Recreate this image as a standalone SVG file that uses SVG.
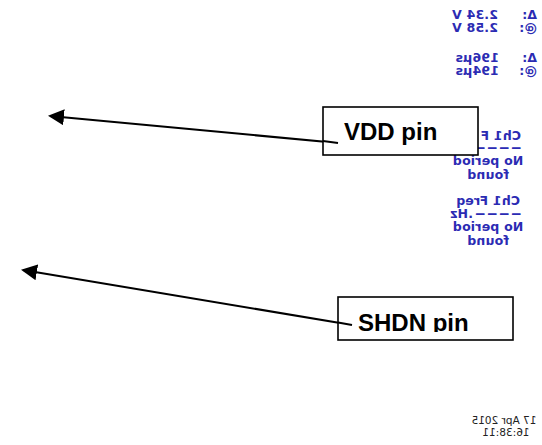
<svg xmlns="http://www.w3.org/2000/svg" width="542" height="445" viewBox="0 0 542 445">
<style>
.scope{font-family:"DejaVu Sans",sans-serif;font-weight:bold;font-size:12.5px;letter-spacing:0.2px;fill:#2b2bb3}
.date{font-family:"DejaVu Sans",sans-serif;font-size:10.5px;fill:#222}
.lbl{font-family:"Liberation Sans",Arial,sans-serif;font-weight:bold;font-size:24px;fill:#000}
.box{fill:#fff;stroke:#000;stroke-width:1.6}
.conn{stroke:#000;stroke-width:2;fill:none}
</style>
<defs>
<marker id="ah" markerWidth="8" markerHeight="8" refX="7" refY="4" orient="auto" markerUnits="strokeWidth">
<path d="M0,0 L8,4 L0,8 Z" fill="#000"/>
</marker>
<clipPath id="shclip"><rect x="338" y="297" width="176" height="35"/></clipPath>
</defs>
<rect width="542" height="445" fill="#fff"/>
<g id="scope-readout" transform="matrix(-1 0 0 1 542 0)">
<g class="scope">
<text x="5" y="19">Δ:</text>
<text x="44" y="19">2.34 V</text>
<text x="5" y="32">@:</text>
<text x="44" y="32">2.58 V</text>
<text x="5" y="62">Δ:</text>
<text x="43" y="62">196µs</text>
<text x="5" y="75">@:</text>
<text x="43" y="75">194µs</text>
<text x="21" y="140">Ch1 F</text>
<text x="20" y="152" textLength="48" lengthAdjust="spacingAndGlyphs">----</text>
<text x="54" y="165" text-anchor="middle">No period</text>
<text x="54" y="179" text-anchor="middle">found</text>
<text x="54" y="205" text-anchor="middle">Ch1 Freq</text>
<text x="20" y="218" textLength="48" lengthAdjust="spacingAndGlyphs">----</text>
<text x="69" y="218">.Hz</text>
<text x="54" y="231" text-anchor="middle">No period</text>
<text x="54" y="245" text-anchor="middle">found</text>
</g>
<g class="date">
<text x="38" y="424" text-anchor="middle">17 Apr 2015</text>
<text x="36" y="436" text-anchor="middle">16:38:11</text>
</g>
</g>
<g id="connectors">
<line class="conn" x1="338" y1="143" x2="50" y2="116" marker-end="url(#ah)"/>
<line class="conn" x1="352" y1="325" x2="23" y2="270" marker-end="url(#ah)"/>
</g>
<g id="vdd-pin">
<rect class="box" x="323" y="107" width="155" height="48"/>
<text class="lbl" x="344" y="140">VDD pin</text>
</g>
<g id="shdn-pin">
<rect class="box" x="338" y="297" width="175" height="43"/>
<text class="lbl" x="358" y="331" clip-path="url(#shclip)">SHDN pin</text>
</g>
<line class="conn" x1="323" y1="141" x2="338" y2="143"/>
<line class="conn" x1="338" y1="322.5" x2="352" y2="325"/>
</svg>
